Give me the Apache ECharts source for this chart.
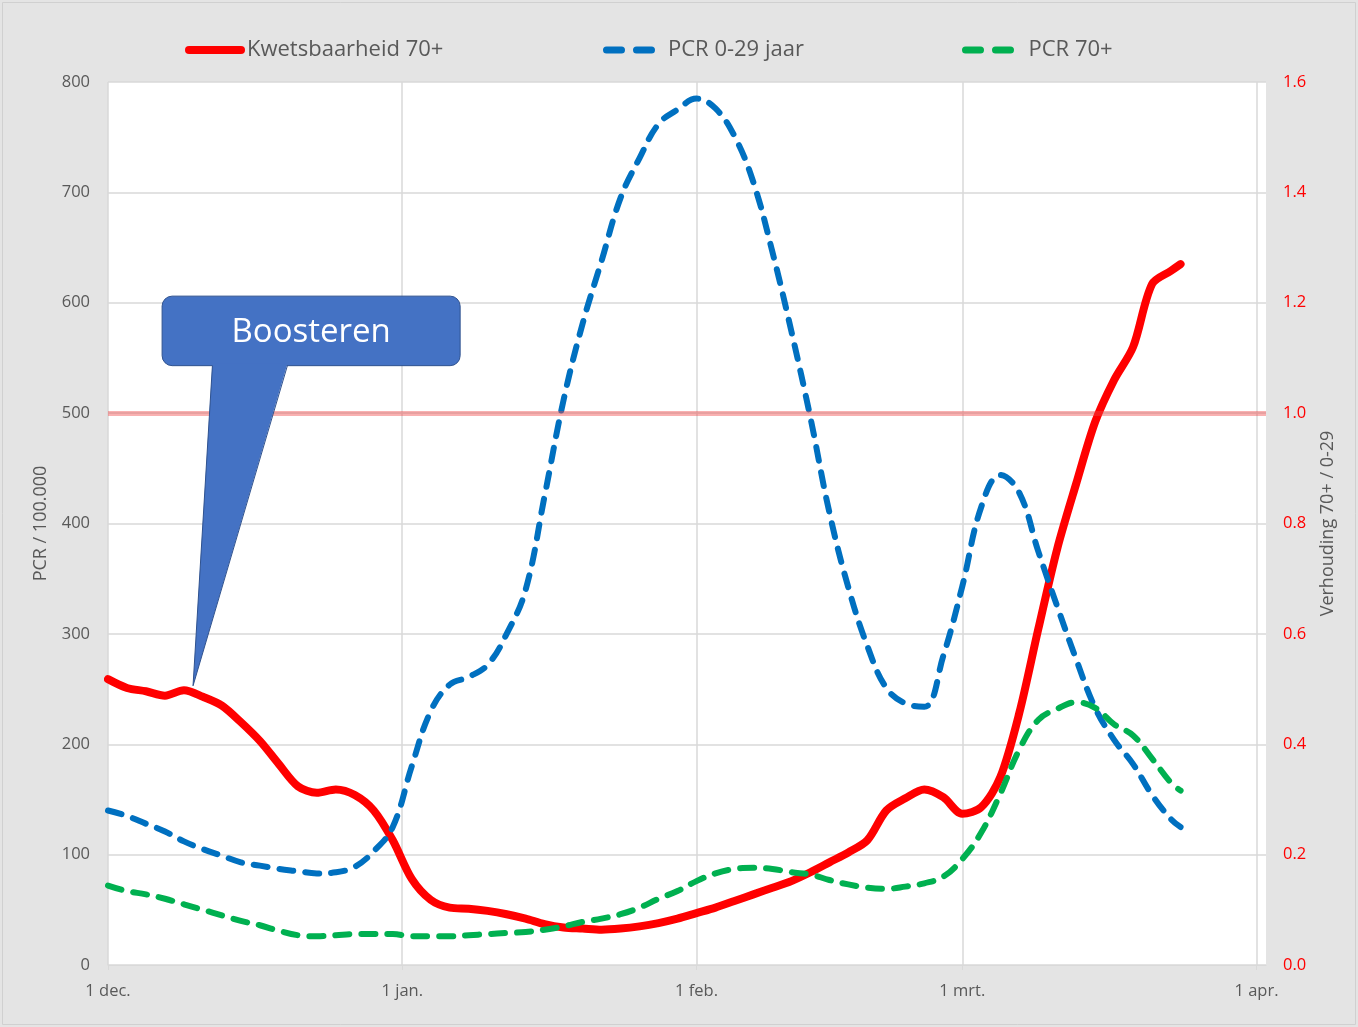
<!DOCTYPE html>
<html>
<head>
<meta charset="utf-8">
<script src="https://cdn.jsdelivr.net/npm/echarts@6/dist/echarts.min.js"></script>
<style>
html,body{margin:0;padding:0;background:#e4e4e4;}
#c{width:1358px;height:1027px;}
</style>
</head>
<body>
<div id="c"></div>
<script>
// ---- DATA ----
// x = days since 1 december 2021
const dayOffsets = [0,2,4,6,8,10,12,14,16,18,20,22,24,26,28,30,32,34,36,38,40,42,44,46,48,50,52,54,56,58,60,62,64,66,68,70,72,74,76,78,80,82,84,86,88,90,92,94,96,98,100,102,104,106,108,110,112,113];
// Kwetsbaarheid 70+ (ratio, right axis)
const kwetsbaarheid = [0.518,0.502,0.496,0.488,0.498,0.486,0.470,0.440,0.406,0.364,0.324,0.312,0.318,0.308,0.280,0.226,0.156,0.118,0.104,0.102,0.098,0.092,0.084,0.074,0.068,0.066,0.064,0.066,0.070,0.076,0.084,0.094,0.104,0.116,0.128,0.140,0.152,0.168,0.186,0.204,0.226,0.280,0.302,0.318,0.304,0.274,0.286,0.340,0.456,0.608,0.754,0.872,0.984,1.060,1.120,1.234,1.258,1.270];
// PCR 0-29 jaar (per 100.000, left axis)
const pcr029 = [140,135,128,121,112,105,99,93,90,87,85,83,84,89,103,125,180,230,254,261,272,300,340,425,512,581,638,695,731,762,775,785,776,751,709,646,574,496,410,342,289,251,237,234,280,343,415,444,428,375,325,277,233,204,182,154,132,125];
// PCR 70+ (per 100.000, left axis)
const pcr70 = [72,67,64,60,55,50,45,40,36,31,27,26,27,28,28,28,26,26,26,27,28,29,30,32,35,39,42,46,52,60,67,76,83,87,88,87,84,82,77,73,70,69,71,74,80,96,120,155,195,222,232,238,233,218,208,187,165,158];
// x-axis ticks (first day of each month)
const monthTickOffsets = [0,31,62,90,121];
const monthTickLabels = ['1 dec.','1 jan.','1 feb.','1 mrt.','1 apr.'];
const xMaxOffset = 122; // 2 apr.
const refRatio = 1.0;

const seriesNames = ['Kwetsbaarheid 70+','PCR 0-29 jaar','PCR 70+'];

// ---- helpers ----
const pair = arr => dayOffsets.map((d, i) => [d, arr[i]]);

const font = '"Open Sans", "Liberation Sans", sans-serif';
const grey = '#595959';
const gridGrey = '#d9d9d9';

const solidIcon = 'path://M4,0 H56 A4,4 0 0 1 56,8 H4 A4,4 0 0 1 4,0 Z';
const dashIcon = 'path://M3.5,0 H18.5 A3.5,3.5 0 0 1 18.5,7 H3.5 A3.5,3.5 0 0 1 3.5,0 Z M33.5,0 H48.5 A3.5,3.5 0 0 1 48.5,7 H33.5 A3.5,3.5 0 0 1 33.5,0 Z';

const chart = echarts.init(document.getElementById('c'), null, {renderer: 'canvas'});

const legendText = {color: grey, fontSize: 22, fontFamily: font};
const option = {
  backgroundColor: '#e4e4e4',
  animation: false,
  textStyle: {fontFamily: font},
  grid: {left: 108, right: 92, top: 82, bottom: 62, show: true, backgroundColor: '#ffffff', borderWidth: 0},
  legend: [
    {data: [{name: seriesNames[0], icon: solidIcon}], left: 185, top: 39, padding: 0, itemWidth: 60, itemHeight: 9,
      textStyle: Object.assign({}, legendText, {padding: [0,0,0,-3]})},
    {data: [{name: seriesNames[1], icon: dashIcon}], left: 603, top: 39, padding: 0, itemWidth: 52, itemHeight: 7,
      textStyle: Object.assign({}, legendText, {padding: [0,0,0,8]})},
    {data: [{name: seriesNames[2], icon: dashIcon}], left: 962, top: 39, padding: 0, itemWidth: 53, itemHeight: 7,
      textStyle: Object.assign({}, legendText, {padding: [0,0,0,9]})}
  ],
  xAxis: {
    type: 'value',
    min: 0,
    max: xMaxOffset,
    axisLine: {show: true, onZero: false, lineStyle: {color: gridGrey, width: 1}},
    axisTick: {show: true, length: 5, customValues: monthTickOffsets, lineStyle: {color: gridGrey}},
    axisLabel: {
      customValues: monthTickOffsets,
      color: grey, fontSize: 16.5, margin: 18, fontFamily: font,
      formatter: v => {
        const i = monthTickOffsets.indexOf(v);
        return i >= 0 ? monthTickLabels[i] : '';
      }
    },
    splitLine: {show: true, lineStyle: {color: gridGrey, width: 1.5}}
  },
  yAxis: [
    {
      type: 'value', position: 'left', min: 0, max: 800, interval: 100,
      axisLine: {show: false}, axisTick: {show: false},
      axisLabel: {color: grey, fontSize: 16.5, margin: 18, fontFamily: font},
      splitLine: {show: true, lineStyle: {color: gridGrey, width: 1.5}},
      name: 'PCR / 100.000', nameLocation: 'middle', nameGap: 58, nameRotate: 90,
      nameTextStyle: {color: grey, fontSize: 18, fontFamily: font}
    },
    {
      type: 'value', position: 'right', min: 0, max: 1.6, interval: 0.2,
      axisLine: {show: false}, axisTick: {show: false},
      axisLabel: {color: '#ff0000', fontSize: 16.5, margin: 17, fontFamily: font, formatter: v => v.toFixed(1)},
      splitLine: {show: false},
      name: 'Verhouding 70+ / 0-29', nameLocation: 'middle', nameGap: 53, nameRotate: 90,
      nameTextStyle: {color: grey, fontSize: 18, fontFamily: font}
    }
  ],
  series: [
    {
      name: '__ref', type: 'line', yAxisIndex: 1, data: [], z: 1, silent: true,
      markLine: {
        silent: true, symbol: 'none', label: {show: false},
        lineStyle: {color: 'rgba(240,70,70,0.42)', width: 5, type: 'solid'},
        data: [{yAxis: refRatio}]
      }
    },
    {
      name: seriesNames[0], type: 'line', yAxisIndex: 1, data: pair(kwetsbaarheid),
      smooth: 0.3, symbol: 'none', z: 3,
      itemStyle: {color: '#ff0000'},
      lineStyle: {color: '#ff0000', width: 8, cap: 'round', join: 'round'}
    },
    {
      name: seriesNames[1], type: 'line', yAxisIndex: 0, data: pair(pcr029),
      smooth: 0.4, symbol: 'none', z: 4,
      itemStyle: {color: '#0070c0'},
      lineStyle: {color: '#0070c0', width: 6, type: [14, 12], cap: 'round', join: 'round'}
    },
    {
      name: seriesNames[2], type: 'line', yAxisIndex: 0, data: pair(pcr70),
      smooth: 0.4, symbol: 'none', z: 5,
      itemStyle: {color: '#00b050'},
      lineStyle: {color: '#00b050', width: 6, type: [14, 12], cap: 'round', join: 'round'}
    }
  ]
};
chart.setOption(option);

// ---- Callout "Boosteren" anchored in data coordinates ----
const callout = {
  text: 'Boosteren',
  boxFrom: [5.7, 606], boxTo: [37.1, 543], // day offset, PCR value (left axis)
  baseFrom: 11.0, baseTo: 18.9,            // pointer base (day offsets)
  tip: [8.96, 0.506]                       // day offset, ratio (right axis)
};
const p0 = (d, v) => chart.convertToPixel({xAxisIndex: 0, yAxisIndex: 0}, [d, v]);
const p1 = (d, v) => chart.convertToPixel({xAxisIndex: 0, yAxisIndex: 1}, [d, v]);
const tl = p0(callout.boxFrom[0], callout.boxFrom[1]);
const br = p0(callout.boxTo[0], callout.boxTo[1]);
const bl = p0(callout.baseFrom, callout.boxTo[1]);
const bR = p0(callout.baseTo, callout.boxTo[1]);
const tip = p1(callout.tip[0], callout.tip[1]);
const fillBlue = '#4472c4', strokeBlue = '#2f528f';

chart.setOption({
  graphic: [
    {type: 'rect', silent: true, z: 0, shape: {x: 2.5, y: 2.5, width: 1353, height: 1022}, style: {fill: null, stroke: '#d0d0d0', lineWidth: 1}},
    {type: 'rect', z: 100, shape: {x: tl[0], y: tl[1], width: br[0] - tl[0], height: br[1] - tl[1], r: 10},
      style: {fill: fillBlue, stroke: strokeBlue, lineWidth: 1}},
    {type: 'polygon', z: 101, shape: {points: [[bl[0], bl[1] - 2], [tip[0], tip[1]], [bR[0], bR[1] - 2]]},
      style: {fill: fillBlue}},
    {type: 'polyline', z: 102, shape: {points: [[bl[0], bl[1]], [tip[0], tip[1]], [bR[0], bR[1]]]},
      style: {fill: null, stroke: strokeBlue, lineWidth: 1}},
    {type: 'text', z: 103, x: (tl[0] + br[0]) / 2, y: (tl[1] + br[1]) / 2 + 2,
      style: {text: callout.text, fill: '#ffffff', fontSize: 33, fontFamily: font, align: 'center', verticalAlign: 'middle', textAlign: 'center', textVerticalAlign: 'middle'}}
  ]
});
</script>
</body>
</html>
